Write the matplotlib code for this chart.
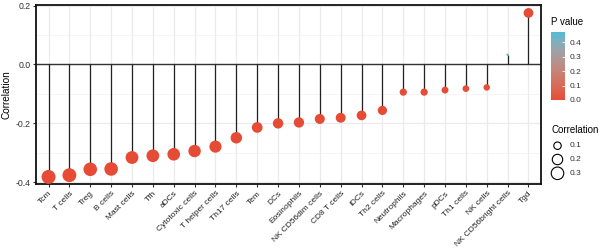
import numpy as np
import matplotlib
matplotlib.use("Agg")
import matplotlib.pyplot as plt
from matplotlib.colors import ListedColormap, Normalize, to_rgb

plt.rcParams['font.family'] = ['Liberation Sans', 'DejaVu Sans']

cells = ["Tcm", "T cells", "Treg", "B cells", "Mast cells", "Tfh", "aDCs",
         "Cytotoxic cells", "T helper cells", "Th17 cells", "Tem", "DCs",
         "Eosinophils", "NK CD56dim cells", "CD8 T cells", "iDCs", "Th2 cells",
         "Neutrophils", "Macrophages", "pDCs", "Th1 cells", "NK cells",
         "NK CD56bright cells", "Tgd"]
correlation = [-0.382, -0.376, -0.356, -0.355, -0.316, -0.310, -0.305, -0.294,
               -0.279, -0.249, -0.214, -0.200, -0.197, -0.185, -0.181, -0.173,
               -0.156, -0.094, -0.094, -0.087, -0.082, -0.078, 0.033, 0.175]
pvalue = [0.0, 0.0, 0.0, 0.0, 0.0, 0.0, 0.0, 0.0, 0.0, 0.0, 0.0, 0.0,
          0.0, 0.0, 0.0, 0.0, 0.0, 0.004, 0.004, 0.007, 0.010, 0.013, 0.46, 0.0]
y_ticks = [-0.4, -0.2, 0.0, 0.2]
p_ticks = [0.0, 0.1, 0.2, 0.3, 0.4]
size_breaks = [0.1, 0.2, 0.3]

LOW, HIGH = "#E64B35", "#4DBBD5"

# --- Lab interpolation (like ggplot's gradient) ---
def srgb_to_lab(rgb):
    rgb = np.asarray(rgb, float)
    lin = np.where(rgb <= 0.04045, rgb / 12.92, ((rgb + 0.055) / 1.055) ** 2.4)
    M = np.array([[0.4124, 0.3576, 0.1805], [0.2126, 0.7152, 0.0722], [0.0193, 0.1192, 0.9505]])
    xyz = M @ lin / np.array([0.95047, 1.0, 1.08883])
    f = np.where(xyz > 0.008856, np.cbrt(xyz), 7.787 * xyz + 16 / 116)
    return np.array([116 * f[1] - 16, 500 * (f[0] - f[1]), 200 * (f[1] - f[2])])

def lab_to_srgb(lab):
    L, a, b = lab
    fy = (L + 16) / 116
    fx = fy + a / 500
    fz = fy - b / 200
    f = np.array([fx, fy, fz])
    xyz = np.where(f ** 3 > 0.008856, f ** 3, (f - 16 / 116) / 7.787) * np.array([0.95047, 1.0, 1.08883])
    Minv = np.array([[3.2406, -1.5372, -0.4986], [-0.9689, 1.8758, 0.0415], [0.0557, -0.2040, 1.0570]])
    lin = Minv @ xyz
    rgb = np.where(lin <= 0.0031308, 12.92 * lin, 1.055 * np.clip(lin, 0, None) ** (1 / 2.4) - 0.055)
    return np.clip(rgb, 0, 1)

l1, l2 = srgb_to_lab(to_rgb(LOW)), srgb_to_lab(to_rgb(HIGH))
cmap = ListedColormap([lab_to_srgb(l1 + (l2 - l1) * t) for t in np.linspace(0, 1, 256)])
pmax = 0.47
norm = Normalize(0, pmax)

W, H = 600, 250
fig = plt.figure(figsize=(6, 2.5), dpi=100)
ax = fig.add_axes([36 / W, 1 - 184.3 / H, 505 / W, 179.6 / H])

x = np.arange(len(cells))
corr = np.array(correlation)
absr = np.abs(corr)
amin, amax = absr.min(), absr.max()
px2pt = 72 / 100
unit_px = 14 / 6.0

def diam_px(v):
    t = np.clip((np.asarray(v) - amin) / (amax - amin), 0, 1)
    return unit_px * (1 + 5 * np.sqrt(t))

# grid
for yv in [-0.3, -0.1, 0.1]:
    ax.axhline(yv, color="#F2F2F2", lw=0.5, zorder=0)
for yv in y_ticks:
    ax.axhline(yv, color="#EBEBEB", lw=0.9, zorder=0)
for xv in x:
    ax.axvline(xv, color="#EBEBEB", lw=0.9, zorder=0)

ax.axhline(0, color="#333333", lw=1.0, zorder=1)
ax.vlines(x, 0, corr, color="#222222", lw=0.9, zorder=2)
sizes = (diam_px(absr) * px2pt) ** 2
ax.scatter(x, corr, s=sizes, c=pvalue, cmap=cmap, norm=norm, linewidths=0, zorder=3)

ax.set_xlim(-0.6, len(cells) - 0.4)
ax.set_ylim(-0.407, 0.203)
ax.set_yticks(y_ticks)
ax.set_yticklabels(["-0.4", "-0.2", "0.0", "0.2"], fontsize=6.3, color="#333333")
ax.set_xticks(x)
ax.set_xticklabels(cells, rotation=45, ha="right", rotation_mode="anchor", fontsize=6.0, color="#222222")
ax.tick_params(axis="both", length=2.5, width=0.8, color="#333333", pad=1.5)
ax.set_ylabel("Correlation", fontsize=7.2, labelpad=3)
for sp in ax.spines.values():
    sp.set_linewidth(1.3)
    sp.set_color("#111111")

# colour bar
cax = fig.add_axes([551 / W, 1 - 100 / H, 14 / W, 68 / H])
sm = plt.cm.ScalarMappable(cmap=cmap, norm=norm)
cb = fig.colorbar(sm, cax=cax, ticks=p_ticks)
cb.outline.set_visible(False)
cb.ax.set_yticklabels(["%.1f" % t for t in p_ticks], fontsize=6.0, color="#333333")
cb.ax.tick_params(length=2.5, width=0.6, color="white", direction="in", pad=3)

# overlay axes for legend texts
lax = fig.add_axes([0, 0, 1, 1])
lax.set_xlim(0, W)
lax.set_ylim(H, 0)
lax.axis("off")
lax.text(551, 22, "P value", fontsize=7.0, va="center", ha="left")
lax.text(551, 130, "Correlation", fontsize=7.0, va="center", ha="left")
for i, b in enumerate(size_breaks):
    yy = 145.7 + i * 13.8
    d = diam_px(b)
    lax.scatter([557.5], [yy], s=(d * px2pt) ** 2, facecolors="none", edgecolors="black", linewidths=0.8)
    lax.text(570, yy, "%.1f" % b, fontsize=6.0, va="center", ha="left", color="#333333")

fig.savefig("out.png", dpi=100)
